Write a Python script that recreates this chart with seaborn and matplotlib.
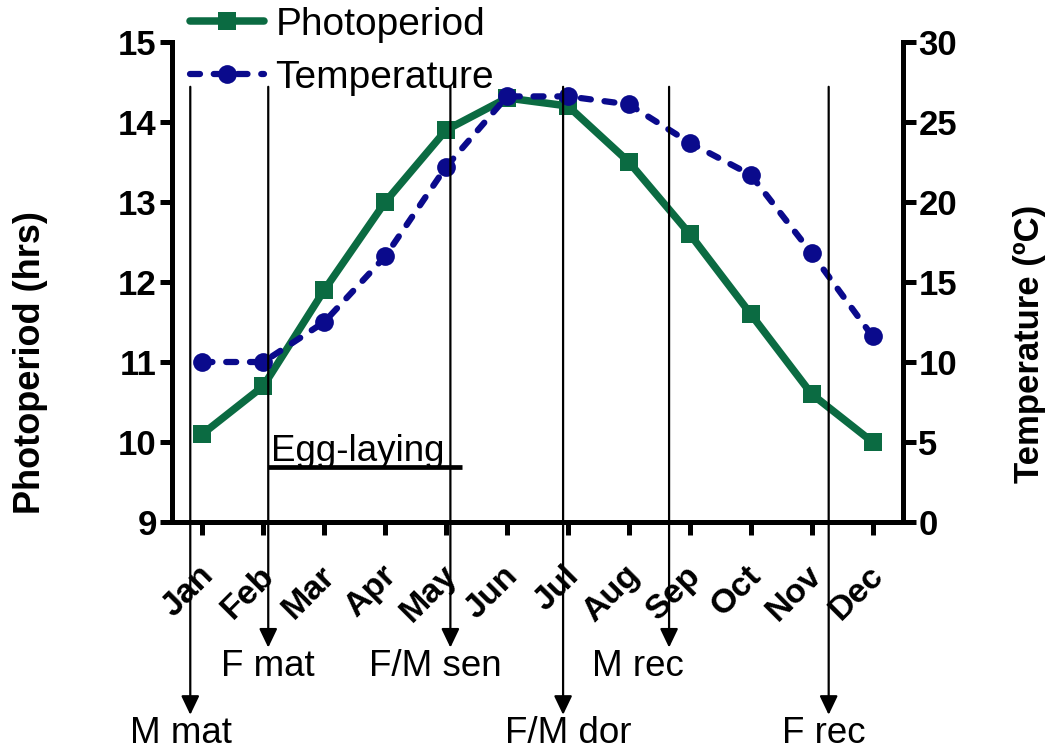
import matplotlib
matplotlib.use("Agg")
import matplotlib.pyplot as plt
import matplotlib.transforms as mtransforms
import seaborn as sns
import pandas as pd
import numpy as np

months = ["Jan", "Feb", "Mar", "Apr", "May", "Jun", "Jul", "Aug", "Sep", "Oct", "Nov", "Dec"]
photoperiod = [10.1, 10.7, 11.9, 13.0, 13.9, 14.3, 14.2, 13.5, 12.6, 11.6, 10.6, 10.0]
temperature = [10.0, 10.0, 12.5, 16.6, 22.2, 26.6, 26.6, 26.1, 23.7, 21.7, 16.8, 11.6]

event_labels = ["M mat", "F mat", "F/M sen", "F/M dor", "M rec", "F rec"]
event_month_pos = [-0.2, 1.08, 4.07, 5.92, 7.66, 10.28]
event_row = [1, 0, 0, 1, 0, 1]  # 0 = upper label row, 1 = lower label row
egg_start, egg_end = 1.08, 4.26

GREEN = "#0b6b42"
NAVY = "#0a0a8c"

sns.set_style("ticks")
plt.rcParams["font.family"] = ["Liberation Sans", "DejaVu Sans"]
for k in ["text.color", "axes.labelcolor", "xtick.color", "ytick.color", "axes.edgecolor"]:
    plt.rcParams[k] = "black"

df = pd.DataFrame({"x": np.arange(len(months)), "Photoperiod": photoperiod, "Temperature": temperature})

fig = plt.figure(figsize=(10.51, 7.53), dpi=100)
ax = fig.add_axes([172/1051, 1-522/753, (903-172)/1051, (522-42)/753])
ax2 = ax.twinx()

sns.lineplot(data=df, x="x", y="Photoperiod", ax=ax, color=GREEN, lw=5.4,
             marker="s", markersize=13, markeredgewidth=0, label="Photoperiod", legend=False)
sns.lineplot(data=df, x="x", y="Temperature", ax=ax2, color=NAVY, lw=4.5,
             marker="o", markersize=13.5, markeredgewidth=0, label="Temperature", legend=False)
tline = ax2.lines[0]
tline.set_dashes([1.6, 2.2])
tline.set_dash_capstyle("round")

ax.set_xlim(-0.5, 11.5)
ax.set_ylim(9, 15)
ax2.set_ylim(0, 30)
ax.set_yticks(range(9, 16))
ax2.set_yticks(range(0, 31, 5))
ax.set_xticks(range(12))

lw_sp = 3.6
for a in (ax, ax2):
    for s in a.spines.values():
        s.set_linewidth(lw_sp)
        s.set_color("black")
ax.spines["top"].set_visible(False)
ax.spines["right"].set_visible(False)
ax2.spines["top"].set_visible(False)
ax2.spines["left"].set_visible(False)
ax2.spines["bottom"].set_visible(False)
ax.tick_params(axis="both", direction="out", length=9, width=lw_sp, color="black", pad=2)
ax.tick_params(axis="x", pad=24)
ax2.tick_params(axis="y", direction="out", length=9, width=lw_sp, color="black", pad=2)
ax.grid(False); ax2.grid(False)

tick_font = dict(family="Liberation Sans", weight="bold", size=25)
month_font = dict(family="Liberation Sans", weight="bold", size=24.5)
ax.set_xticklabels(months, rotation=45, ha="right", va="center", rotation_mode="anchor", **month_font)
ax.set_yticklabels([str(v) for v in range(9, 16)], **tick_font)
ax2.set_yticklabels([str(v) for v in range(0, 31, 5)], **tick_font)
shift = mtransforms.ScaledTranslation(6/100, -3/100, fig.dpi_scale_trans)
for lab in ax.get_xticklabels():
    lab.set_transform(lab.get_transform() + shift)

ax.set_xlabel("")
ax.set_ylabel("Photoperiod (hrs)", family="Liberation Sans", weight="bold", size=26,
              va="center", rotation=90)
ax.yaxis.set_label_coords((31 - 172) / 731, (522 - 363) / 480)
ax2.set_ylabel("Temperature (ºC)", family="Liberation Sans", weight="bold", size=25,
               va="center", rotation=90)
ax2.yaxis.set_label_coords((1030 - 172) / 731, (522 - 344) / 480)

# Egg-laying bar
ax.plot([egg_start, egg_end], [9.69, 9.69], color="black", lw=3.4, solid_capstyle="butt", zorder=5)
ax.text(egg_start + 0.05, 9.76, "Egg-laying", fontsize=26.5, ha="left", va="baseline", color="black")

# Event arrows (drawn on top)
top_y = 14.44
tip_y = [7.43, 6.59]
text_y = [7.19, 6.36]
for xp, row in zip(event_month_pos, event_row):
    ax2.annotate("", xy=(xp, tip_y[row]), xytext=(xp, top_y), xycoords=ax.transData,
                 textcoords=ax.transData, annotation_clip=False,
                 arrowprops=dict(arrowstyle="-|>,head_length=1.15,head_width=0.55", lw=1.6,
                                 color="black", shrinkA=0, shrinkB=0, mutation_scale=10))

text_centers = {"M mat": -0.35, "F mat": 1.07, "F/M sen": 3.82, "F/M dor": 6.0, "M rec": 7.15, "F rec": 10.2}
for lab, row in zip(event_labels, event_row):
    ax2.text(text_centers[lab], text_y[row], lab, transform=ax.transData, fontsize=26.5,
             ha="center", va="center", clip_on=False)

h1 = ax.lines[0]
h2 = ax2.lines[0]
fig.legend([h1, h2], ["Photoperiod", "Temperature"], loc="upper left",
           bbox_to_anchor=(190/1051, 1 - 7/753), frameon=False, fontsize=28,
           handlelength=1.9, handletextpad=0.3, labelspacing=0.43, borderpad=0, borderaxespad=0)

fig.savefig("out.png", dpi=100)
